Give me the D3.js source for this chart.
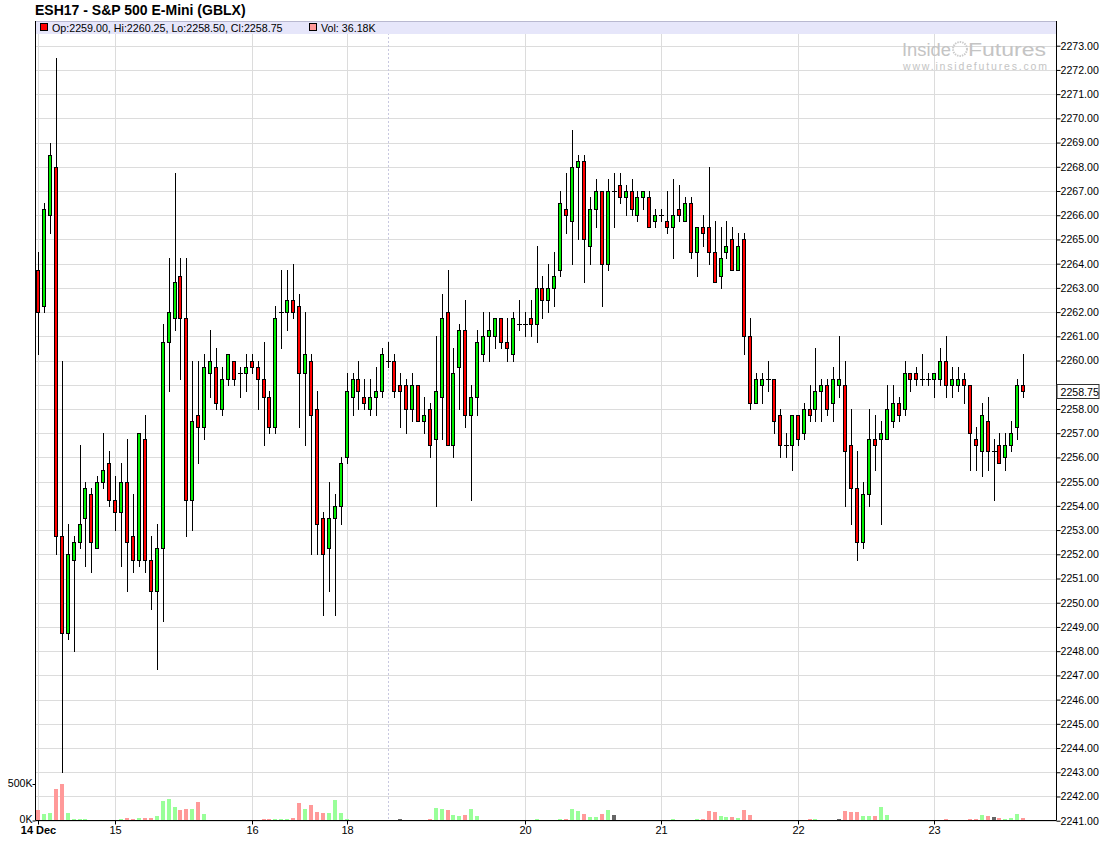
<!DOCTYPE html>
<html>
<head>
<meta charset="utf-8">
<script src="https://cdn.jsdelivr.net/npm/d3@7"></script>
<style>
  body { margin: 0; background: #fff; }
  text { font-family: "Liberation Sans", Arial, sans-serif; }
</style>
</head>
<body>
<div id="chart"></div>
<script>
// hourly bars, ESH17 14-23 Dec
const opens = [
  2263.75, 2262.25, 2266.0, 2268.0, 2252.75, 2248.75, 2251.75, 2252.5, 2253.5, 2254.5,
  2252.25, 2255.0, 2255.75, 2254.25, 2253.75, 2255.0, 2252.75, 2251.75, 2256.75, 2251.75,
  2250.5, 2252.25, 2260.75, 2261.75, 2263.5, 2261.75, 2254.25, 2257.75, 2257.25, 2259.5,
  2259.75, 2258.0, 2259.25, 2260.0, 2259.5, 2259.5, 2260.0, 2259.75, 2259.25, 2258.5,
  2257.25, 2262.0, 2262.0, 2262.5, 2262.25, 2259.5, 2260.0, 2258.0, 2253.5, 2252.25,
  2253.5, 2254.0, 2256.0, 2258.5, 2259.25, 2258.5, 2258.0, 2258.5, 2258.75, 2260.0,
  2260.0, 2259.0, 2259.0, 2258.0, 2259.0, 2257.5, 2258.0, 2256.75, 2258.5, 2262.0,
  2256.5, 2259.75, 2261.25, 2257.75, 2258.5, 2260.25, 2261.0, 2261.0, 2261.75, 2260.75,
  2260.25, 2261.5, 2261.5, 2261.75, 2261.5, 2263.0, 2262.5, 2263.0, 2263.75, 2266.25,
  2265.75, 2268.0, 2268.25, 2264.75, 2266.25, 2267.0, 2264.0, 2267.0, 2267.25, 2266.75,
  2267.0, 2266.0, 2266.75, 2266.75, 2265.75, 2266.0, 2265.75, 2265.5, 2266.25, 2265.75,
  2266.5, 2264.5, 2265.5, 2265.5, 2264.5, 2263.5, 2264.5, 2265.0, 2263.75, 2265.0,
  2261.0, 2258.25, 2259.0, 2259.25, 2259.25, 2257.75, 2256.5, 2256.5, 2257.75, 2257.0,
  2258.0, 2258.0, 2258.75, 2259.0, 2258.25, 2259.0, 2259.0, 2256.5, 2254.75, 2252.5,
  2254.5, 2256.75, 2256.75, 2256.75, 2257.5, 2258.25, 2258.0, 2259.5, 2259.5, 2259.25,
  2259.25, 2259.25, 2259.25, 2260.0, 2259.0, 2259.0, 2259.25, 2259.0, 2256.75, 2256.25,
  2257.5, 2256.25, 2256.5, 2256.0, 2256.5, 2257.25, 2259.0
];
const highs = [
  2264.5, 2266.5, 2269.0, 2272.5, 2260.0, 2253.25, 2252.75, 2256.5, 2255.0, 2254.75,
  2255.25, 2257.0, 2256.25, 2255.25, 2255.75, 2256.75, 2254.5, 2257.0, 2257.75, 2252.75,
  2253.25, 2261.5, 2264.25, 2267.75, 2264.25, 2264.25, 2260.0, 2260.0, 2260.25, 2261.25,
  2260.5, 2259.75, 2260.25, 2260.0, 2259.75, 2260.25, 2260.25, 2260.0, 2260.75, 2258.75,
  2262.25, 2263.75, 2263.75, 2264.0, 2262.75, 2262.0, 2260.25, 2258.75, 2253.75, 2255.0,
  2254.5, 2256.0, 2259.5, 2259.5, 2260.0, 2259.25, 2259.25, 2259.75, 2260.5, 2260.75,
  2260.25, 2259.5, 2259.25, 2259.5, 2259.0, 2258.5, 2258.25, 2261.0, 2262.75, 2263.75,
  2260.5, 2261.5, 2262.5, 2259.0, 2261.25, 2262.0, 2262.0, 2261.75, 2261.75, 2261.75,
  2262.0, 2262.5, 2262.0, 2262.5, 2264.75, 2263.5, 2264.0, 2264.5, 2267.0, 2267.75,
  2269.5, 2268.5, 2268.5, 2266.75, 2267.5, 2267.0, 2267.5, 2267.75, 2267.75, 2267.25,
  2267.5, 2267.0, 2267.0, 2267.0, 2266.25, 2266.25, 2267.0, 2267.5, 2267.25, 2266.75,
  2266.75, 2265.5, 2266.0, 2268.0, 2265.75, 2265.5, 2265.75, 2265.5, 2265.25, 2265.25,
  2261.75, 2259.5, 2259.5, 2260.0, 2259.25, 2258.0, 2257.0, 2257.75, 2257.75, 2258.25,
  2259.0, 2260.5, 2259.25, 2259.25, 2259.75, 2261.0, 2260.0, 2258.0, 2256.25, 2255.0,
  2258.0, 2257.75, 2257.5, 2259.0, 2259.0, 2258.5, 2260.0, 2259.5, 2259.75, 2260.25,
  2259.5, 2259.5, 2260.5, 2261.0, 2259.75, 2259.75, 2259.5, 2259.0, 2257.25, 2258.25,
  2258.5, 2256.75, 2257.0, 2257.0, 2257.5, 2259.25, 2260.25
];
const lows = [
  2260.25, 2262.0, 2265.25, 2252.0, 2243.0, 2248.5, 2248.0, 2252.25, 2251.5, 2251.25,
  2252.25, 2254.75, 2254.0, 2253.0, 2251.5, 2250.5, 2251.25, 2251.5, 2251.25, 2249.75,
  2247.25, 2249.25, 2258.75, 2261.25, 2259.25, 2252.75, 2253.0, 2255.75, 2256.75, 2258.5,
  2258.0, 2257.75, 2259.0, 2259.0, 2258.5, 2258.75, 2259.5, 2258.0, 2256.5, 2257.0,
  2257.0, 2260.5, 2261.25, 2261.75, 2257.25, 2256.5, 2252.0, 2252.0, 2249.5, 2250.5,
  2249.5, 2253.25, 2255.75, 2257.75, 2258.0, 2258.0, 2257.75, 2257.75, 2258.5, 2259.75,
  2258.5, 2257.25, 2257.0, 2257.5, 2257.5, 2257.0, 2256.0, 2254.0, 2256.75, 2256.5,
  2256.0, 2258.0, 2257.25, 2254.25, 2257.75, 2260.0, 2260.0, 2260.5, 2260.5, 2260.0,
  2260.0, 2261.25, 2261.0, 2261.0, 2260.75, 2261.75, 2262.0, 2262.25, 2263.5, 2265.25,
  2264.0, 2265.0, 2263.25, 2264.0, 2265.5, 2262.25, 2263.75, 2265.5, 2266.5, 2266.0,
  2266.0, 2265.75, 2266.25, 2265.5, 2265.5, 2265.75, 2265.25, 2264.25, 2265.75, 2265.75,
  2264.25, 2263.5, 2264.75, 2264.0, 2263.25, 2263.0, 2264.25, 2263.75, 2263.75, 2260.25,
  2258.0, 2258.25, 2258.25, 2258.75, 2257.0, 2256.0, 2256.0, 2255.5, 2256.5, 2256.75,
  2257.5, 2257.5, 2257.5, 2257.75, 2257.5, 2258.5, 2254.0, 2253.25, 2251.75, 2252.25,
  2254.0, 2255.5, 2253.25, 2256.75, 2257.25, 2257.5, 2257.75, 2258.75, 2259.0, 2259.0,
  2259.0, 2258.5, 2259.0, 2258.5, 2258.5, 2258.75, 2258.25, 2255.5, 2255.5, 2255.25,
  2255.5, 2254.25, 2255.75, 2255.5, 2256.25, 2256.75, 2258.5
];
const closes = [
  2262.0, 2266.25, 2268.5, 2252.75, 2248.75, 2252.0, 2252.5, 2253.25, 2254.75, 2252.5,
  2255.0, 2255.5, 2254.25, 2253.75, 2255.0, 2252.5, 2251.75, 2257.0, 2251.75, 2250.5,
  2252.25, 2260.75, 2262.0, 2263.25, 2261.75, 2254.25, 2257.5, 2257.25, 2259.75, 2260.0,
  2258.25, 2259.25, 2260.25, 2259.25, 2259.5, 2259.75, 2259.75, 2259.25, 2258.5, 2257.25,
  2261.75, 2262.0, 2262.5, 2262.0, 2259.5, 2260.25, 2257.75, 2253.25, 2252.0, 2253.5,
  2254.0, 2255.75, 2258.75, 2259.25, 2258.75, 2258.25, 2258.5, 2258.75, 2260.25, 2260.0,
  2258.75, 2258.75, 2258.0, 2259.0, 2257.5, 2257.75, 2256.5, 2258.75, 2261.75, 2256.5,
  2259.5, 2261.25, 2257.75, 2258.5, 2260.75, 2261.0, 2261.25, 2261.75, 2260.75, 2260.5,
  2261.75, 2261.5, 2261.5, 2261.5, 2263.0, 2262.5, 2263.0, 2263.5, 2266.5, 2266.0,
  2268.0, 2268.25, 2265.0, 2266.25, 2267.0, 2264.0, 2267.0, 2267.0, 2266.75, 2267.0,
  2266.25, 2266.75, 2267.0, 2265.5, 2266.0, 2266.0, 2265.5, 2266.0, 2266.0, 2266.5,
  2264.5, 2265.5, 2265.25, 2264.5, 2263.25, 2264.25, 2264.75, 2263.75, 2264.75, 2261.0,
  2258.25, 2259.25, 2259.25, 2259.25, 2257.5, 2256.5, 2256.5, 2257.75, 2256.75, 2258.0,
  2257.75, 2258.75, 2259.0, 2258.0, 2259.25, 2259.25, 2256.25, 2254.75, 2252.5, 2254.5,
  2256.75, 2256.5, 2257.0, 2258.0, 2258.25, 2257.75, 2259.5, 2259.25, 2259.25, 2259.25,
  2259.25, 2259.5, 2260.0, 2259.0, 2259.25, 2259.25, 2259.0, 2257.0, 2256.5, 2257.75,
  2256.25, 2256.25, 2255.75, 2256.5, 2257.0, 2259.0, 2258.75
];
// volume in thousands
const volumes = [
  141, 86, 100, 427, 495, 100, 18, 18, 18, 3,
  3, 3, 3, 3, 18, 32, 18, 32, 32, 32,
  59, 264, 291, 182, 141, 155, 155, 250, 86, 3,
  3, 3, 3, 3, 3, 3, 3, 3, 18, 18,
  18, 18, 18, 32, 236, 155, 209, 114, 100, 100,
  277, 100, 18, 3, 3, 3, 3, 3, 3, 3,
  3, 18, 3, 3, 3, 3, 18, 168, 155, 141,
  73, 59, 73, 155, 59, 3, 3, 3, 3, 3,
  3, 3, 3, 3, 18, 3, 3, 3, 18, 18,
  155, 127, 86, 45, 45, 86, 141, 73, 3, 3,
  3, 3, 3, 3, 3, 3, 3, 18, 3, 3,
  3, 18, 18, 127, 114, 59, 45, 45, 32, 141,
  73, 3, 3, 3, 3, 3, 3, 3, 3, 3,
  18, 18, 3, 3, 3, 18, 127, 114, 114, 59,
  59, 59, 182, 73, 3, 3, 3, 3, 3, 3,
  3, 3, 3, 18, 3, 3, 3, 18, 18, 73,
  59, 45, 32, 18, 32, 86, 36.18
];
const dayLabels = ["14 Dec", "15", "16", "18", "20", "21", "22", "23"];
const dayIndex = [0, 13, 36, 52, 82, 105, 128, 151];
const weekBreakIndex = [59];
const priceTicks = d3.range(2241, 2274);
const volTicks = [0, 500];
const volTickLabels = ["0K", "500K"];

const width = 1100;
const height = 861;
const plotLeft = 35.5, plotRight = 1056.5, plotTop = 21, plotBottom = 820.5;

const bars = opens.map((o, i) => ({
  i: i, o: o, h: highs[i], l: lows[i], c: closes[i], v: volumes[i],
  prev: i > 0 ? closes[i - 1] : o
}));

const x = d3.scaleLinear().domain([0, bars.length - 1]).range([38, 38 + 5.935 * (bars.length - 1)]);
const y = d3.scaleLinear().domain([2241, 2273]).range([820.7, 45.7]);
const yv = d3.scaleLinear().domain([0, 500]).range([820.5, 784]);

const px = i => Math.round(x(i));
const py = v => Math.round(y(v));

const last = bars[bars.length - 1];

const svg = d3.select("#chart").append("svg")
  .attr("width", width)
  .attr("height", height)
  .style("display", "block");

svg.append("rect").attr("width", width).attr("height", height).attr("fill", "#fff");

// title
svg.append("text")
  .attr("x", 35).attr("y", 14.5)
  .attr("font-size", 14).attr("font-weight", "bold")
  .attr("fill", "#000")
  .text("ESH17 - S&P 500 E-Mini (GBLX)");

// grid
const grid = svg.append("g");
grid.selectAll("line.h")
  .data(priceTicks)
  .enter().append("line")
    .attr("class", "h")
    .attr("x1", plotLeft).attr("x2", plotRight)
    .attr("y1", d => py(d) + 0.5).attr("y2", d => py(d) + 0.5)
    .attr("stroke", "#dcdcdc");

grid.selectAll("line.v")
  .data(dayIndex)
  .enter().append("line")
    .attr("class", "v")
    .attr("x1", d => px(d) + 0.5).attr("x2", d => px(d) + 0.5)
    .attr("y1", plotTop).attr("y2", plotBottom)
    .attr("stroke", "#dcdcdc");

grid.selectAll("line.w")
  .data(weekBreakIndex)
  .enter().append("line")
    .attr("class", "w")
    .attr("x1", d => px(d) + 0.5).attr("x2", d => px(d) + 0.5)
    .attr("y1", plotTop).attr("y2", plotBottom)
    .attr("stroke", "#c8c8e0")
    .attr("stroke-dasharray", "2,2");

// watermark
const wm = svg.append("g").attr("fill", "#c4c4c4");
wm.append("text").attr("x", 902).attr("y", 55.5).attr("font-size", 18)
  .attr("textLength", 49).attr("lengthAdjust", "spacingAndGlyphs").text("Inside");
wm.append("circle").attr("cx", 960).attr("cy", 49).attr("r", 7)
  .attr("fill", "none").attr("stroke", "#cccccc").attr("stroke-width", 2).attr("stroke-dasharray", "1.5,1");
wm.append("text").attr("x", 968).attr("y", 55.5).attr("font-size", 18)
  .attr("textLength", 78).attr("lengthAdjust", "spacingAndGlyphs").text("Futures");
wm.append("text").attr("x", 903).attr("y", 69.5).attr("font-size", 10.5)
  .attr("textLength", 144).text("www.insidefutures.com");

// header band
svg.append("rect")
  .attr("x", plotLeft).attr("y", plotTop).attr("width", plotRight - plotLeft).attr("height", 13)
  .attr("fill", "#e6e6fa");
svg.append("line")
  .attr("x1", plotLeft).attr("x2", plotRight).attr("y1", plotTop + 0.5).attr("y2", plotTop + 0.5)
  .attr("stroke", "#b8b8d0");

svg.append("rect").attr("x", 40.5).attr("y", 23.5).attr("width", 7).attr("height", 7)
  .attr("fill", "#ff0000").attr("stroke", "#000");
svg.append("text").attr("x", 52).attr("y", 31.5).attr("font-size", 10.7)
  .text("Op:" + last.o.toFixed(2) + ", Hi:" + last.h.toFixed(2) + ", Lo:" + last.l.toFixed(2) + ", Cl:" + last.c.toFixed(2));
svg.append("rect").attr("x", 309.5).attr("y", 23.5).attr("width", 7).attr("height", 7)
  .attr("fill", "#ff9999").attr("stroke", "#000");
svg.append("text").attr("x", 321).attr("y", 31.5).attr("font-size", 10.7)
  .text("Vol: " + last.v.toFixed(2) + "K");

// volume bars
svg.append("g").selectAll("rect")
  .data(bars)
  .enter().append("rect")
    .attr("x", d => px(d.i) - 2)
    .attr("width", 4)
    .attr("y", d => Math.round(yv(d.v)))
    .attr("height", d => Math.max(0, 820 - Math.round(yv(d.v))))
    .attr("fill", d => d.c > d.prev ? "#99ff99" : d.c < d.prev ? "#ff9999" : "#666666");

// candles
const candles = svg.append("g").selectAll("g")
  .data(bars)
  .enter().append("g");

candles.append("line")
  .attr("x1", d => px(d.i) + 0.5).attr("x2", d => px(d.i) + 0.5)
  .attr("y1", d => py(d.h)).attr("y2", d => py(d.l) + 1)
  .attr("stroke", "#000");

candles.filter(d => d.o !== d.c).append("rect")
  .attr("x", d => px(d.i) - 1.5)
  .attr("width", 3)
  .attr("y", d => py(Math.max(d.o, d.c)) + 0.5)
  .attr("height", d => Math.max(1, py(Math.min(d.o, d.c)) - py(Math.max(d.o, d.c))))
  .attr("fill", d => d.c > d.o ? "#00ee00" : "#ff0000")
  .attr("stroke", "#000");

candles.filter(d => d.o === d.c).append("line")
  .attr("x1", d => px(d.i) - 2).attr("x2", d => px(d.i) + 3)
  .attr("y1", d => py(d.o) + 0.5).attr("y2", d => py(d.o) + 0.5)
  .attr("stroke", "#000");

// axes frame
const frame = svg.append("g").attr("stroke", "#000");
frame.append("line").attr("x1", plotLeft).attr("x2", plotLeft).attr("y1", plotTop).attr("y2", plotBottom);
frame.append("line").attr("x1", plotRight).attr("x2", plotRight).attr("y1", plotTop).attr("y2", plotBottom);
frame.append("line").attr("x1", plotLeft).attr("x2", plotRight).attr("y1", plotBottom).attr("y2", plotBottom);

// right price axis (the label under the last-price box is hidden, as in the source)
const yAxis = d3.axisRight(y)
  .tickValues(priceTicks)
  .tickSize(4)
  .tickFormat(d => Math.abs(y(d) - y(last.c)) < 12 ? "" : d3.format(".2f")(d));
const ya = svg.append("g")
  .attr("transform", "translate(" + plotRight + ",0)")
  .call(yAxis);
ya.select(".domain").remove();
ya.selectAll(".tick line").attr("stroke", "#000");
ya.selectAll(".tick text")
  .attr("x", 4).attr("font-size", 10.6)
  .attr("font-family", "Liberation Sans, Arial, sans-serif")
  .attr("fill", "#000");

// left volume axis
const yvAxis = d3.axisLeft(yv)
  .tickValues(volTicks)
  .tickSize(3)
  .tickFormat((d, k) => volTickLabels[k]);
const va = svg.append("g")
  .attr("transform", "translate(" + plotLeft + ",0)")
  .call(yvAxis);
va.select(".domain").remove();
va.selectAll(".tick line").attr("stroke", "#000");
va.selectAll(".tick text")
  .attr("x", -3).attr("font-size", 10.6)
  .attr("dy", "0.2em")
  .attr("font-family", "Liberation Sans, Arial, sans-serif")
  .attr("fill", "#000");

// x axis
const xAxis = d3.axisBottom(x)
  .tickValues(dayIndex)
  .tickSize(4)
  .tickFormat((d, k) => dayLabels[k]);
const xa = svg.append("g")
  .attr("transform", "translate(0," + plotBottom + ")")
  .call(xAxis);
xa.select(".domain").remove();
xa.selectAll(".tick").attr("transform", d => "translate(" + (px(d) + 0.5) + ",0)");
xa.selectAll(".tick line").attr("stroke", "#000");
xa.selectAll(".tick text")
  .attr("y", 6).attr("font-size", 11)
  .attr("font-family", "Liberation Sans, Arial, sans-serif")
  .attr("fill", "#000")
  .attr("font-weight", (d, k) => k === 0 ? "bold" : "normal");

// last price marker
const lp = svg.append("g").attr("transform", "translate(" + plotRight + "," + (py(last.c) + 0.5) + ")");
lp.append("rect").attr("x", 0.5).attr("y", -7).attr("width", 42).attr("height", 14)
  .attr("fill", "#fff").attr("stroke", "#333");
lp.append("text").attr("x", 4).attr("y", 4).attr("font-size", 10.6).text(last.c.toFixed(2));
</script>
</body>
</html>
